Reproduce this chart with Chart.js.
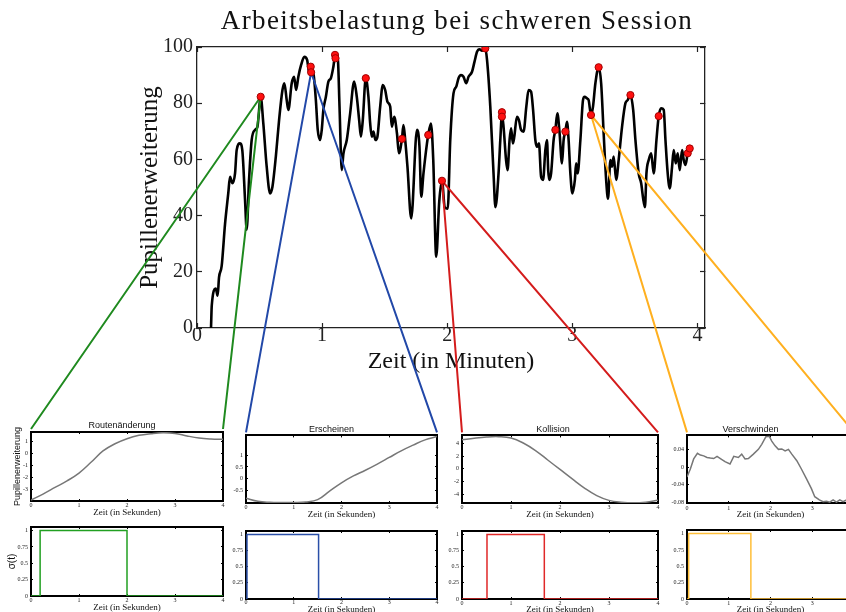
<!DOCTYPE html>
<html>
<head>
<meta charset="utf-8">
<script src="https://cdn.jsdelivr.net/npm/chart.js@4.4.1/dist/chart.umd.min.js"></script>
<style>
  html, body { margin: 0; padding: 0; background: #fff; overflow: hidden; width: 846px; height: 612px; }
  canvas { position: absolute; left: 0; top: 0; }
</style>
</head>
<body>
<script>
// ---------- session recording (minutes vs. pupil dilation) ----------
const timeMin = [0.112,0.118,0.15,0.165,0.176,0.197,0.224,0.25,0.264,0.283,0.304,0.317,0.344,0.362,0.384,0.397,0.416,0.437,0.464,0.483,0.509,0.53,0.557,0.584,0.603,0.63,0.656,0.683,0.698,0.717,0.73,0.757,0.776,0.792,0.81,0.832,0.858,0.88,0.898,0.912,0.93,0.95,0.965,0.984,0.997,1.01,1.03,1.05,1.07,1.09,1.105,1.126,1.139,1.157,1.17,1.197,1.224,1.256,1.277,1.296,1.31,1.325,1.349,1.37,1.384,1.397,1.41,1.426,1.442,1.464,1.485,1.504,1.522,1.544,1.557,1.576,1.598,1.614,1.638,1.65,1.664,1.682,1.712,1.758,1.778,1.792,1.81,1.838,1.848,1.87,1.888,1.912,1.936,1.958,1.98,2.004,2.024,2.05,2.072,2.09,2.11,2.13,2.152,2.17,2.198,2.218,2.238,2.258,2.278,2.304,2.318,2.344,2.37,2.385,2.41,2.424,2.437,2.45,2.47,2.482,2.498,2.51,2.525,2.536,2.557,2.573,2.59,2.61,2.632,2.65,2.67,2.686,2.704,2.718,2.733,2.75,2.766,2.784,2.797,2.807,2.816,2.83,2.85,2.864,2.88,2.898,2.917,2.93,2.944,2.957,2.97,2.984,3.0,3.02,3.03,3.042,3.064,3.085,3.098,3.117,3.13,3.149,3.165,3.184,3.21,3.23,3.25,3.27,3.285,3.304,3.317,3.33,3.35,3.37,3.397,3.424,3.442,3.464,3.486,3.504,3.53,3.55,3.566,3.58,3.592,3.61,3.63,3.65,3.672,3.69,3.71,3.73,3.744,3.762,3.778,3.797,3.81,3.826,3.842,3.858,3.877,3.89,3.904,3.922,3.938];
const pupil = [0,8,14,11.5,18,22,37,48,53.8,51.5,55,63.3,65.7,63.3,45.6,35,52.7,66.9,70.5,71.6,82.3,72.8,57.4,47.9,50.3,61,74,84.7,87.1,81.1,77.6,87.1,89.4,84.7,89.4,93.6,96.5,95.4,90.6,91.5,90.6,81.1,70.5,66.9,70.5,77.6,82.3,87.7,88.9,93,97.2,95.4,78.8,56.2,62,66.9,76.4,87.7,82.3,74,68.1,74,88.9,82.3,72.8,68.1,69.9,66.9,68.1,78.8,86.5,84.7,80.5,78.8,71.6,75.2,69.3,62.2,67.3,72.2,66.9,57.4,39,70.5,64.5,46.7,55,65.7,68.7,72.8,60,25.4,45,52.4,43,42.5,66.9,83.5,85.9,88.9,90,89.4,87.1,89.4,91.2,94.8,98.3,99.2,98.7,99.5,95.4,78.8,55,43,55,66.9,76,71.6,59.8,56.2,66.9,71.1,65.7,68.1,75.2,74,70.5,69.9,78.8,84.7,84.1,77.6,66.9,64.5,65.7,53.8,52.7,63.3,66.9,56,52.7,55,66.9,70.5,76.4,69.3,58.6,66.9,69.9,73.4,66.9,55,47.9,52.7,58.6,55,66.9,81.1,82.3,81.7,81.1,75.8,78.8,87.1,92.8,87.1,69.3,52.7,46,59.8,57.4,61,52.7,59.8,71.6,80,81.1,82.9,77.6,66.9,55,51.5,46,43,55,59.8,62.2,55,66.9,75.4,78.2,77.6,66.9,55,49.7,57.4,63.3,58.6,62.2,56.2,63.3,59.8,58,62.2,63.9];

// marked events on the recording
const markerMin   = [0.509,0.909,0.912,1.103,1.107,1.349,1.638,1.848,1.958,2.304,2.437,2.437,2.864,2.944,3.149,3.21,3.464,3.69,3.922,3.938];
const markerPupil = [82.3,93.0,91.0,97.2,96.0,88.9,67.3,68.7,52.4,99.5,76.8,75.2,70.5,69.9,75.8,92.8,82.9,75.4,62.2,63.9];

const mainXTicks = [0,1,2,3,4];
const mainYTicks = [0,20,40,60,80,100];

// ---------- detail windows (seconds) ----------
const eventNames  = ['Routenänderung','Erscheinen','Kollision','Verschwinden'];
const eventMarker = [0, 2, 8, 14];          // which marker each detail window belongs to

const secGrid        = [0,0.25,0.5,0.75,1,1.25,1.5,1.75,2,2.25,2.5,2.75,3,3.25,3.5,3.75,4];
const routeCurve     = [-3.9,-3.4,-2.85,-2.3,-1.65,-0.75,0.2,0.8,1.22,1.5,1.64,1.72,1.66,1.45,1.28,1.2,1.17];
const appearCurve    = [-0.82,-0.95,-0.99,-1.0,-1.0,-0.98,-0.88,-0.52,-0.17,0.12,0.36,0.62,0.9,1.18,1.42,1.64,1.78];
const collisionCurve = [4.6,4.86,5.05,5.1,4.9,4.1,2.9,1.4,-0.1,-1.6,-3.05,-4.25,-5.0,-5.3,-5.4,-5.3,-5.0];
const vanishSec      = [0,0.08,0.16,0.25,0.32,0.4,0.48,0.56,0.64,0.72,0.8,0.91,1.03,1.12,1.23,1.31,1.39,1.47,1.59,1.71,1.79,1.89,1.97,2.03,2.11,2.19,2.27,2.35,2.43,2.51,2.63,2.74,2.86,2.98,3.06,3.17,3.26,3.34,3.42,3.5,3.58,3.66,3.74,3.8,3.9,4.0];
const vanishCurve    = [-0.0225,-0.004,0.019,0.032,0.028,0.026,0.0225,0.021,0.02,0.025,0.02,0.0128,0.0075,0.025,0.0225,0.03,0.019,0.02,0.03,0.041,0.0525,0.07,0.071,0.06,0.049,0.041,0.042,0.0375,0.041,0.03,0.015,-0.004,-0.026,-0.049,-0.0675,-0.075,-0.079,-0.078,-0.08,-0.075,-0.08,-0.075,-0.079,-0.076,-0.078,-0.08];

const pulseOn  = [0.19, 0.02, 0.51, 0.04];
const pulseOff = [2.0, 1.52, 1.68, 1.53];

const secTicks       = [0,1,2,3,4];
const routeTicks     = [-3,-2,-1,0,1];
const appearTicks    = [-0.5,0,0.5,1];
const collisionTicks = [-4,-2,0,2,4];
const vanishTicks    = [-0.08,-0.04,0,0.04];
const sigmaTicks     = [0,0.25,0.5,0.75,1];

// ---------- look & layout ----------
const CW = 870, CH = 630;
const SERIF = '"Liberation Serif", "Times New Roman", serif';
const SANS  = '"Liberation Sans", Arial, sans-serif';
const connectorColors = ['#1f8a1f', '#2248a8', '#d41c1c', '#ffb020'];
const pulseColors     = ['#22a022', '#2a4fa8', '#e02828', '#ffbf3a'];

const mainLayout = {
  area: { l: 197, t: 47, r: 705, b: 328 },
  title: { text: 'Arbeitsbelastung bei schweren Session', font: { family: SERIF, size: 27, weight: 'normal' },
           cy: 22, dx: 6, spacing: '1.4px' },
  xLabelCy: 336, yLabelRight: 193,
  xTitle: { text: 'Zeit (in Minuten)', font: { family: SERIF, size: 24 }, cy: 362 },
  yTitle: { text: 'Pupillenerweiterung', font: { family: SERIF, size: 25 }, cx: 150 },
  tickFont: { family: SERIF, size: 20 },
  frame: { color: '#222', width: 1.3, tick: 5, tickWidth: 1.2 }
};

const topLayout = [
  { area: { l: 31,  t: 432, r: 223, b: 501 }, titleCy: 426, titleDx: -5,  tickCy: 505.7, xTitleCy: 513,   yTitle: { text: 'Pupillenerweiterung', font: { family: SANS, size: 9 }, cx: 18 } },
  { area: { l: 246, t: 435, r: 437, b: 503 }, titleCy: 430, titleDx: -10, tickCy: 507.3, xTitleCy: 515 },
  { area: { l: 462, t: 434, r: 658, b: 503 }, titleCy: 430, titleDx: -7,  tickCy: 507.3, xTitleCy: 514.5 },
  { area: { l: 687, t: 434, r: 854, b: 503 }, titleCy: 430, titleDx: -20, tickCy: 508,   xTitleCy: 514.5 }
];
const bottomLayout = [
  { area: { l: 31,  t: 527, r: 223, b: 596 }, tickCy: 600,   xTitleCy: 607.5, yTitle: { text: 'σ(t)', font: { family: SANS, size: 10 }, cx: 12 } },
  { area: { l: 246, t: 531, r: 437, b: 599 }, tickCy: 602.8, xTitleCy: 610 },
  { area: { l: 462, t: 531, r: 658, b: 599 }, tickCy: 603,   xTitleCy: 610 },
  { area: { l: 687, t: 530, r: 854, b: 599 }, tickCy: 603,   xTitleCy: 610 }
];
const topYRange = [[-3.98, 1.78], [-1.02, 1.83], [-5.42, 5.3], [-0.082, 0.073]];
const sigmaRange = [0, 1.055];
const panelFrame = { color: '#000', width: 2, tick: 2, tickWidth: 1 };
const smallTickFont = { family: SERIF, size: 6 };
const smallXTitle = { text: 'Zeit (in Sekunden)', font: { family: SERIF, size: 9 } };

// ---------- helpers ----------
const lh = f => f.size * 1.2;

function addCanvas() {
  const c = document.createElement('canvas');
  c.width = CW; c.height = CH;
  document.body.appendChild(c);
  return c;
}

// Chart title with a horizontal nudge and optional letter spacing
const titleShift = {
  id: 'titleShift',
  afterInit(chart, args, opts) {
    const tb = chart.titleBlock;
    if (!tb) return;
    const draw = tb.draw.bind(tb);
    tb.draw = function () {
      const ctx = chart.ctx;
      ctx.save();
      ctx.translate(opts.dx || 0, 0);
      if (opts.spacing && 'letterSpacing' in ctx) ctx.letterSpacing = opts.spacing;
      draw();
      ctx.restore();
    };
  }
};

// Boxed axes (labels bottom/left, inward ticks on all four sides) placed so the
// plotting area lands on the requested rectangle of the page.
function boxedOptions(o) {
  const a = o.area, fr = o.frame;
  const grid = { display: true, drawOnChartArea: false, drawTicks: true, tickLength: -fr.tick,
                 tickColor: fr.color, tickWidth: fr.tickWidth, color: fr.color };
  const border = { display: true, color: fr.color, width: fr.width };
  const setTicks = vals => s => { s.ticks = vals.map(v => ({ value: v })); };

  const xPad = o.xLabelCy - lh(o.tickFont) / 2 - a.b + fr.tick;
  const yPad = a.l + fr.tick - o.yLabelRight;

  let xH = 20;
  if (o.xTitle) xH = o.xTitle.cy + lh(o.xTitle.font) / 2 - a.b;
  let yW = 30, padLeft = a.l - 30;
  if (o.yTitle) { padLeft = o.yTitle.cx - lh(o.yTitle.font) / 2; yW = a.l - padLeft; }
  let padTop = a.t, titlePadBottom = 0;
  if (o.title) {
    padTop = o.title.cy - lh(o.title.font) / 2;
    titlePadBottom = Math.max(0, a.t - padTop - lh(o.title.font));
  }

  const tickLabels = { display: true, padding: 0, font: o.tickFont, color: '#222',
                       autoSkip: false, maxRotation: 0, callback: v => String(v) };

  return {
    responsive: false, animation: false, devicePixelRatio: 1, events: [],
    layout: { padding: { left: padLeft, top: padTop, right: CW - a.r, bottom: CH - a.b - xH } },
    plugins: {
      legend: { display: false }, tooltip: { enabled: false },
      title: o.title ? { display: true, text: o.title.text, font: o.title.font, color: '#111',
                         fullSize: false, padding: { top: 0, bottom: titlePadBottom } } : { display: false },
      titleShift: o.title ? { dx: o.title.dx || 0, spacing: o.title.spacing || null } : {}
    },
    scales: {
      x: { type: 'linear', position: 'bottom', min: o.xMin, max: o.xMax, grid, border,
           ticks: Object.assign({}, tickLabels, { padding: xPad }),
           afterBuildTicks: setTicks(o.xTicks), afterFit: s => { s.height = xH; },
           title: o.xTitle ? { display: true, text: o.xTitle.text, font: o.xTitle.font, color: '#111', padding: 0 } : { display: false } },
      x2: { type: 'linear', position: 'top', display: true, min: o.xMin, max: o.xMax, grid, border,
            ticks: { display: false }, afterBuildTicks: setTicks(o.xTicks), afterFit: s => { s.height = 0; } },
      y: { type: 'linear', position: 'left', min: o.yMin, max: o.yMax, grid, border,
           ticks: Object.assign({}, tickLabels, { padding: yPad }),
           afterBuildTicks: setTicks(o.yTicks), afterFit: s => { s.width = yW; },
           title: o.yTitle ? { display: true, text: o.yTitle.text, font: o.yTitle.font, color: '#111', padding: 0 } : { display: false } },
      y2: { type: 'linear', position: 'right', display: true, min: o.yMin, max: o.yMax, grid, border,
            ticks: { display: false }, afterBuildTicks: setTicks(o.yTicks), afterFit: s => { s.width = 0; } }
    }
  };
}

const zip = (xs, ys) => xs.map((x, i) => ({ x, y: ys[i] }));

// ---------- build ----------
const mainCanvas = addCanvas();           // kept underneath the detail windows
const topPanels = [];
const topData = [zip(secGrid, routeCurve), zip(secGrid, appearCurve), zip(secGrid, collisionCurve), zip(vanishSec, vanishCurve)];
const topTicks = [routeTicks, appearTicks, collisionTicks, vanishTicks];

topLayout.forEach((p, k) => {
  const opts = boxedOptions({
    area: p.area, frame: panelFrame, tickFont: smallTickFont,
    title: { text: eventNames[k], font: { family: SANS, size: 9, weight: 'normal' }, cy: p.titleCy, dx: p.titleDx },
    xLabelCy: p.tickCy, yLabelRight: p.area.l - 3,
    xTitle: Object.assign({ cy: p.xTitleCy }, smallXTitle), yTitle: p.yTitle,
    xMin: 0, xMax: 4, xTicks: secTicks, yMin: topYRange[k][0], yMax: topYRange[k][1], yTicks: topTicks[k]
  });
  topPanels.push(new Chart(addCanvas(), {
    type: 'line',
    data: { datasets: [{ data: topData[k], borderColor: '#777', borderWidth: 1.5, pointRadius: 0,
                         tension: k === 3 ? 0 : 0.4, fill: false }] },
    options: opts,
    plugins: [titleShift]
  }));
});

bottomLayout.forEach((p, k) => {
  const opts = boxedOptions({
    area: p.area, frame: panelFrame, tickFont: smallTickFont,
    xLabelCy: p.tickCy, yLabelRight: p.area.l - 3,
    xTitle: Object.assign({ cy: p.xTitleCy }, smallXTitle), yTitle: p.yTitle,
    xMin: 0, xMax: 4, xTicks: secTicks, yMin: sigmaRange[0], yMax: sigmaRange[1], yTicks: sigmaTicks
  });
  const on = pulseOn[k], off = pulseOff[k];
  new Chart(addCanvas(), {
    type: 'line',
    data: { datasets: [{ data: [{ x: 0, y: 0 }, { x: on, y: 0 }, { x: on, y: 1 }, { x: off, y: 1 }, { x: off, y: 0 }, { x: 4, y: 0 }],
                         borderColor: pulseColors[k], borderWidth: 1.5, pointRadius: 0, tension: 0, fill: false }] },
    options: opts
  });
});

// lines joining each marked event to its detail window
const connectorPlugin = {
  id: 'connectors',
  afterDatasetDraw(chart, args) {
    if (args.index !== 1) return;
    const { ctx, scales } = chart;
    eventMarker.forEach((mi, k) => {
      const px = scales.x.getPixelForValue(markerMin[mi]);
      const py = scales.y.getPixelForValue(markerPupil[mi]);
      const a = topPanels[k].chartArea;
      ctx.save();
      ctx.strokeStyle = connectorColors[k];
      ctx.lineWidth = 2;
      ctx.beginPath();
      ctx.moveTo(a.left, a.top - 3);
      ctx.lineTo(px, py);
      ctx.lineTo(a.right, a.top - 3);
      ctx.stroke();
      ctx.restore();
    });
  }
};

const M = mainLayout;
new Chart(mainCanvas, {
  type: 'line',
  data: {
    datasets: [
      { data: zip(markerMin, markerPupil), showLine: false, pointRadius: 3.6, pointBackgroundColor: '#ff1010',
        pointBorderColor: '#a00000', pointBorderWidth: 1, order: 0 },
      { data: zip(timeMin, pupil), borderColor: '#000', borderWidth: 2.6, pointRadius: 0,
        cubicInterpolationMode: 'monotone', fill: false, order: 1 }
    ]
  },
  options: boxedOptions({
    area: M.area, frame: M.frame, tickFont: M.tickFont, title: M.title,
    xLabelCy: M.xLabelCy, yLabelRight: M.yLabelRight, xTitle: M.xTitle, yTitle: M.yTitle,
    xMin: 0, xMax: 4.06, xTicks: mainXTicks, yMin: 0, yMax: 100, yTicks: mainYTicks
  }),
  plugins: [connectorPlugin, titleShift]
});
</script>
</body>
</html>
